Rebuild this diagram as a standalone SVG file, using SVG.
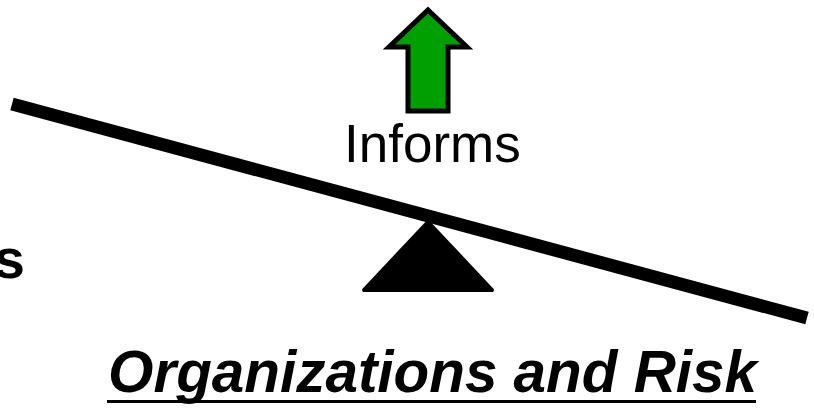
<svg xmlns="http://www.w3.org/2000/svg" width="814" height="409" viewBox="0 0 814 409">
<style>
.t{font-family:"Liberation Sans",Arial,sans-serif;fill:#000}
</style>
<rect width="814" height="409" fill="#fff"/>
<g id="connectors">
<line id="beam" x1="12" y1="104" x2="807" y2="318" stroke="#000" stroke-width="13"/>
</g>
<g id="arrow">
<polygon points="428,10 467,47 448,47 448,111 408,111 408,47 389,47" fill="#00A000" stroke="#000" stroke-width="5" stroke-linejoin="miter"/>
</g>
<g id="fulcrum">
<polygon points="428,222 492,290 364,290" fill="#000" stroke="#000" stroke-width="4" stroke-linejoin="round"/>
</g>
<g id="informs">
<text class="t" x="344" y="162" font-size="53">Informs</text>
</g>
<g id="left-label">
<text class="t" x="25" y="278" font-size="56" font-weight="bold" text-anchor="end">s</text>
</g>
<g id="title">
<text class="t" x="108" y="392" font-size="60" font-weight="bold" font-style="italic" textLength="649" lengthAdjust="spacingAndGlyphs">Organizations and Risk</text>
<rect x="107" y="400" width="649" height="3" fill="#000"/>
</g>
</svg>
